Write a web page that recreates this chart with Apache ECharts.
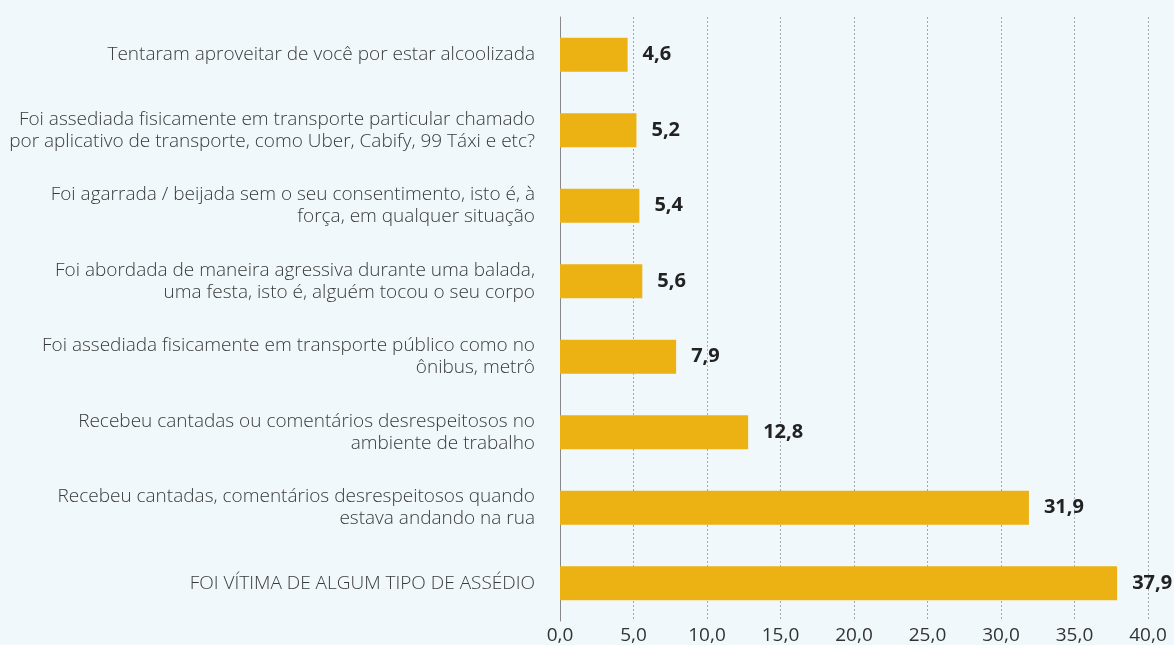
<!DOCTYPE html>
<html>
<head>
<meta charset="utf-8">
<script src="https://cdn.jsdelivr.net/npm/echarts@6/dist/echarts.min.js"></script>
<style>
  html, body { margin: 0; padding: 0; background: #f0f8fb; }
  #chart { width: 1174px; height: 645px; }
</style>
</head>
<body>
<div id="chart"></div>
<script>
// categorias (de cima para baixo)
const categorias = [
  'Tentaram aproveitar de você por estar alcoolizada',
  'Foi assediada fisicamente em transporte particular chamado\npor aplicativo de transporte, como Uber, Cabify, 99 Táxi e etc?',
  'Foi agarrada / beijada sem o seu consentimento, isto é, à\nforça, em qualquer situação',
  'Foi abordada de maneira agressiva durante uma balada,\numa festa, isto é, alguém tocou o seu corpo',
  'Foi assediada fisicamente em transporte público como no\nônibus, metrô',
  'Recebeu cantadas ou comentários desrespeitosos no\nambiente de trabalho',
  'Recebeu cantadas, comentários desrespeitosos quando\nestava andando na rua',
  'FOI VÍTIMA DE ALGUM TIPO DE ASSÉDIO'
]
const valores = [4.6, 5.2, 5.4, 5.6, 7.9, 12.8, 31.9, 37.9]

const fmt = v => v.toFixed(1).replace('.', ',')

const chart = echarts.init(document.getElementById('chart'))
const option = {
  backgroundColor: '#f0f8fb',
  animation: false,
  grid: { left: 560, right: 26, top: 17, bottom: 24 },
  xAxis: {
    type: 'value',
    min: 0,
    max: 40,
    interval: 5,
    axisLine: { show: false },
    axisTick: { show: false },
    axisLabel: {
      formatter: v => fmt(v),
      color: '#333',
      fontSize: 19,
      fontFamily: 'Open Sans',
      margin: 5
    },
    splitLine: {
      show: true,
      lineStyle: { color: '#a8a8a8', type: [2, 2], width: 1 }
    }
  },
  yAxis: {
    type: 'category',
    inverse: true,
    data: categorias,
    axisLine: { show: true, lineStyle: { color: '#888', width: 1 } },
    axisTick: { show: false },
    axisLabel: {
      color: '#3a3a3a',
      fontSize: 19,
      fontWeight: 300,
      fontFamily: 'Open Sans',
      lineHeight: 22,
      margin: 25,
      align: 'right'
    }
  },
  series: [
    {
      type: 'bar',
      data: valores,
      barWidth: 34,
      itemStyle: { color: '#ecb213' },
      label: {
        show: true,
        position: 'right',
        distance: 15,
        formatter: p => fmt(p.value),
        color: '#222',
        fontSize: 20,
        fontWeight: 'bold',
        fontFamily: 'Open Sans'
      }
    }
  ]
}
option && chart.setOption(option)
</script>
</body>
</html>
